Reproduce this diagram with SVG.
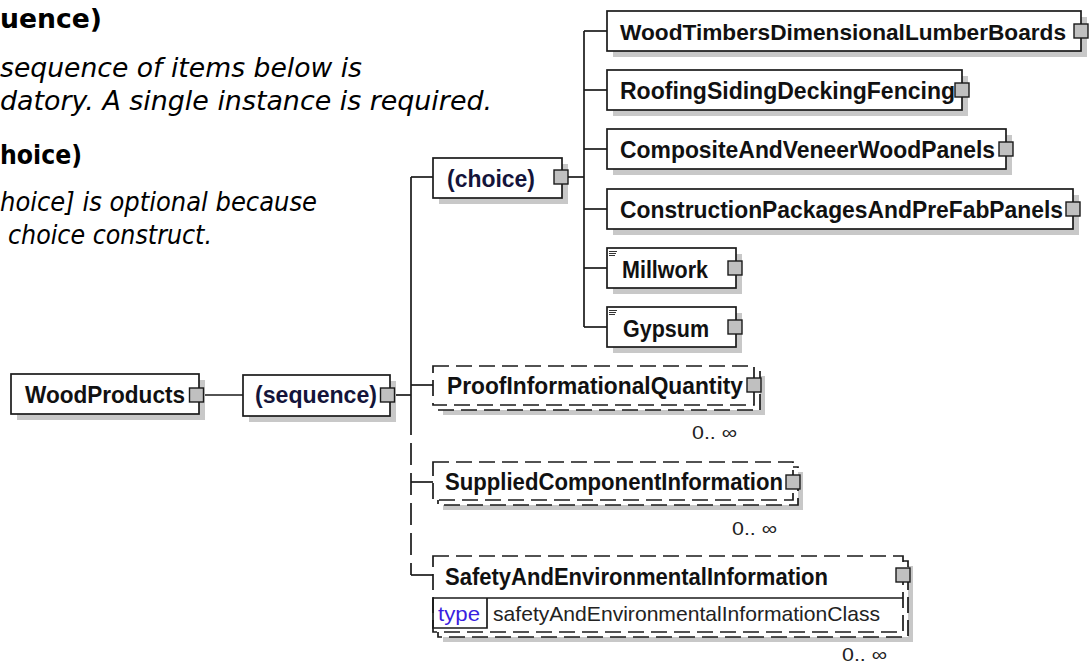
<svg xmlns="http://www.w3.org/2000/svg" width="1090" height="663" viewBox="0 0 1090 663">
<style>
.box{fill:#fff;stroke:#1a1a1a;stroke-width:1.7}
.dbox{fill:#fff;stroke:#1a1a1a;stroke-width:1.7;stroke-dasharray:16 7}
.sh{fill:#c8c8c8}
.sq{fill:#c0c0c0;stroke:#1a1a1a;stroke-width:1.4}
.lbl{font-family:"Liberation Sans",Arial,sans-serif;font-weight:bold;font-size:24px;fill:#111}
.grp{font-family:"Liberation Sans",Arial,sans-serif;font-weight:bold;font-size:24px;fill:#14143a}
.occ{font-family:"Liberation Sans",Arial,sans-serif;font-size:19px;fill:#222}
.typ{font-family:"Liberation Sans",Arial,sans-serif;font-size:21px;fill:#222}
.tk{fill:#3a1ee0}
.nb{font-family:"DejaVu Sans",Verdana,sans-serif;font-weight:bold;font-size:26px;fill:#000}
.ni{font-family:"DejaVu Sans",Verdana,sans-serif;font-style:italic;font-size:26px;fill:#000}
.con{stroke:#1a1a1a;stroke-width:1.7;fill:none}
.dcon{stroke:#1a1a1a;stroke-width:1.7;fill:none;stroke-dasharray:22 8}
.doc{stroke:#333;stroke-width:1}
</style>
<rect width="1090" height="663" fill="#fff"/>

<g id="notes">
<text class="nb" x="0" y="28" textLength="102" lengthAdjust="spacingAndGlyphs">uence)</text>
<text class="ni" x="0" y="77" textLength="362" lengthAdjust="spacingAndGlyphs">sequence of items below is</text>
<text class="ni" x="0" y="110" textLength="492" lengthAdjust="spacingAndGlyphs">datory. A single instance is required.</text>
<text class="nb" x="0" y="164" textLength="82" lengthAdjust="spacingAndGlyphs">hoice)</text>
<text class="ni" x="0" y="211" textLength="317" lengthAdjust="spacingAndGlyphs">hoice] is optional because</text>
<text class="ni" x="8" y="244" textLength="204" lengthAdjust="spacingAndGlyphs">choice construct.</text>
</g>

<g id="connectors">
<line class="con" x1="203.5" y1="395" x2="243" y2="395"/>
<line class="con" x1="394.5" y1="395" x2="411" y2="395"/>
<line class="con" x1="411" y1="177" x2="411" y2="413"/>
<line class="dcon" x1="411" y1="413" x2="411" y2="575"/>
<line class="con" x1="411" y1="177" x2="433" y2="177"/>
<line class="con" x1="411" y1="385" x2="433" y2="385"/>
<line class="con" x1="411" y1="482" x2="433" y2="482"/>
<line class="con" x1="411" y1="575" x2="433" y2="575"/>
<line class="con" x1="568" y1="177" x2="584" y2="177"/>
<line class="con" x1="584" y1="31" x2="584" y2="327"/>
<line class="con" x1="584" y1="31" x2="607" y2="31"/>
<line class="con" x1="584" y1="90" x2="607" y2="90"/>
<line class="con" x1="584" y1="149" x2="607" y2="149"/>
<line class="con" x1="584" y1="209" x2="607" y2="209"/>
<line class="con" x1="584" y1="268" x2="607" y2="268"/>
<line class="con" x1="584" y1="327" x2="607" y2="327"/>
</g>

<g id="n-woodproducts">
<rect class="sh" x="17" y="380" width="188" height="40"/>
<rect class="box" x="11" y="374" width="188" height="40"/>
<text class="lbl" x="25" y="402.5" textLength="160" lengthAdjust="spacingAndGlyphs">WoodProducts</text>
<rect class="sq" x="189.5" y="388" width="14" height="14"/>
</g>

<g id="n-sequence">
<rect class="sh" x="249" y="381" width="147" height="41"/>
<rect class="box" x="243" y="375" width="147" height="41"/>
<text class="grp" x="255" y="403" textLength="122" lengthAdjust="spacingAndGlyphs">(sequence)</text>
<rect class="sq" x="380.5" y="388" width="14" height="14"/>
</g>

<g id="n-choice">
<rect class="sh" x="439" y="164" width="129" height="40"/>
<rect class="box" x="433" y="158" width="129" height="40"/>
<text class="grp" x="447" y="186.5" textLength="88" lengthAdjust="spacingAndGlyphs">(choice)</text>
<rect class="sq" x="554" y="170" width="14" height="14"/>
</g>

<g id="n-woodtimbers">
<rect class="sh" x="613" y="17" width="474" height="40"/>
<rect class="box" x="607" y="11" width="474" height="40"/>
<text class="lbl" x="620" y="39.5" style="font-size:22.6px" textLength="446" lengthAdjust="spacingAndGlyphs">WoodTimbersDimensionalLumberBoards</text>
<rect class="sq" x="1074" y="24" width="14" height="14"/>
</g>

<g id="n-roofing">
<rect class="sh" x="613" y="76" width="355" height="40"/>
<rect class="box" x="607" y="70" width="355" height="40"/>
<text class="lbl" x="620" y="98.5" textLength="335" lengthAdjust="spacingAndGlyphs">RoofingSidingDeckingFencing</text>
<rect class="sq" x="955" y="83" width="14" height="14"/>
</g>

<g id="n-composite">
<rect class="sh" x="613" y="135" width="399" height="40"/>
<rect class="box" x="607" y="129" width="399" height="40"/>
<text class="lbl" x="620" y="157.5" textLength="375" lengthAdjust="spacingAndGlyphs">CompositeAndVeneerWoodPanels</text>
<rect class="sq" x="999" y="142" width="14" height="14"/>
</g>

<g id="n-construction">
<rect class="sh" x="613" y="195" width="466" height="40"/>
<rect class="box" x="607" y="189" width="466" height="40"/>
<text class="lbl" x="620" y="217.5" textLength="443" lengthAdjust="spacingAndGlyphs">ConstructionPackagesAndPreFabPanels</text>
<rect class="sq" x="1066" y="202" width="14" height="14"/>
</g>

<g id="n-millwork">
<rect class="sh" x="613" y="254" width="129" height="40"/>
<rect class="box" x="607" y="248" width="129" height="40"/>
<line class="doc" x1="609" y1="251.5" x2="617" y2="251.5"/>
<line class="doc" x1="609" y1="253.5" x2="616" y2="253.5"/>
<line class="doc" x1="609" y1="255.5" x2="615" y2="255.5"/>
<text class="lbl" x="622" y="277.5" textLength="86" lengthAdjust="spacingAndGlyphs">Millwork</text>
<rect class="sq" x="728" y="261" width="14" height="14"/>
</g>

<g id="n-gypsum">
<rect class="sh" x="613" y="313" width="129" height="40"/>
<rect class="box" x="607" y="307" width="129" height="40"/>
<line class="doc" x1="609" y1="310.5" x2="617" y2="310.5"/>
<line class="doc" x1="609" y1="312.5" x2="616" y2="312.5"/>
<line class="doc" x1="609" y1="314.5" x2="615" y2="314.5"/>
<text class="lbl" x="623" y="336.5" textLength="86" lengthAdjust="spacingAndGlyphs">Gypsum</text>
<rect class="sq" x="728" y="320" width="14" height="14"/>
</g>

<g id="n-proof">
<rect class="sh" x="443" y="376" width="322" height="39"/>
<rect class="dbox" x="438" y="371" width="322" height="39"/>
<rect class="dbox" x="433" y="366" width="321" height="39"/>
<text class="lbl" x="447" y="394" textLength="296" lengthAdjust="spacingAndGlyphs">ProofInformationalQuantity</text>
<rect class="sq" x="747" y="378" width="14" height="14"/>
<text class="occ" x="692" y="439" textLength="45" lengthAdjust="spacingAndGlyphs">0.. ∞</text>
</g>

<g id="n-supplied">
<rect class="sh" x="443" y="472" width="360" height="38"/>
<rect class="dbox" x="438" y="467" width="360" height="38"/>
<rect class="dbox" x="433" y="462" width="360" height="38"/>
<text class="lbl" x="445" y="489.5" textLength="338" lengthAdjust="spacingAndGlyphs">SuppliedComponentInformation</text>
<rect class="sq" x="786" y="475" width="14" height="14"/>
<text class="occ" x="732" y="535" textLength="45" lengthAdjust="spacingAndGlyphs">0.. ∞</text>
</g>

<g id="n-safety">
<rect class="sh" x="443" y="566" width="470" height="76"/>
<rect class="dbox" x="438" y="561" width="470" height="76"/>
<rect class="dbox" x="433" y="556" width="470" height="76"/>
<line class="con" x1="433" y1="598" x2="903" y2="598"/>
<polyline class="con" points="433,598 433,628 487,628 487,598"/>
<text class="lbl" x="445" y="585" textLength="383" lengthAdjust="spacingAndGlyphs">SafetyAndEnvironmentalInformation</text>
<rect class="sq" x="896" y="568" width="14" height="14"/>
<text class="typ tk" x="438" y="621" textLength="42" lengthAdjust="spacingAndGlyphs">type</text>
<text class="typ" x="493" y="621" textLength="387" lengthAdjust="spacingAndGlyphs">safetyAndEnvironmentalInformationClass</text>
<text class="occ" x="842" y="661" textLength="45" lengthAdjust="spacingAndGlyphs">0.. ∞</text>
</g>
</svg>
